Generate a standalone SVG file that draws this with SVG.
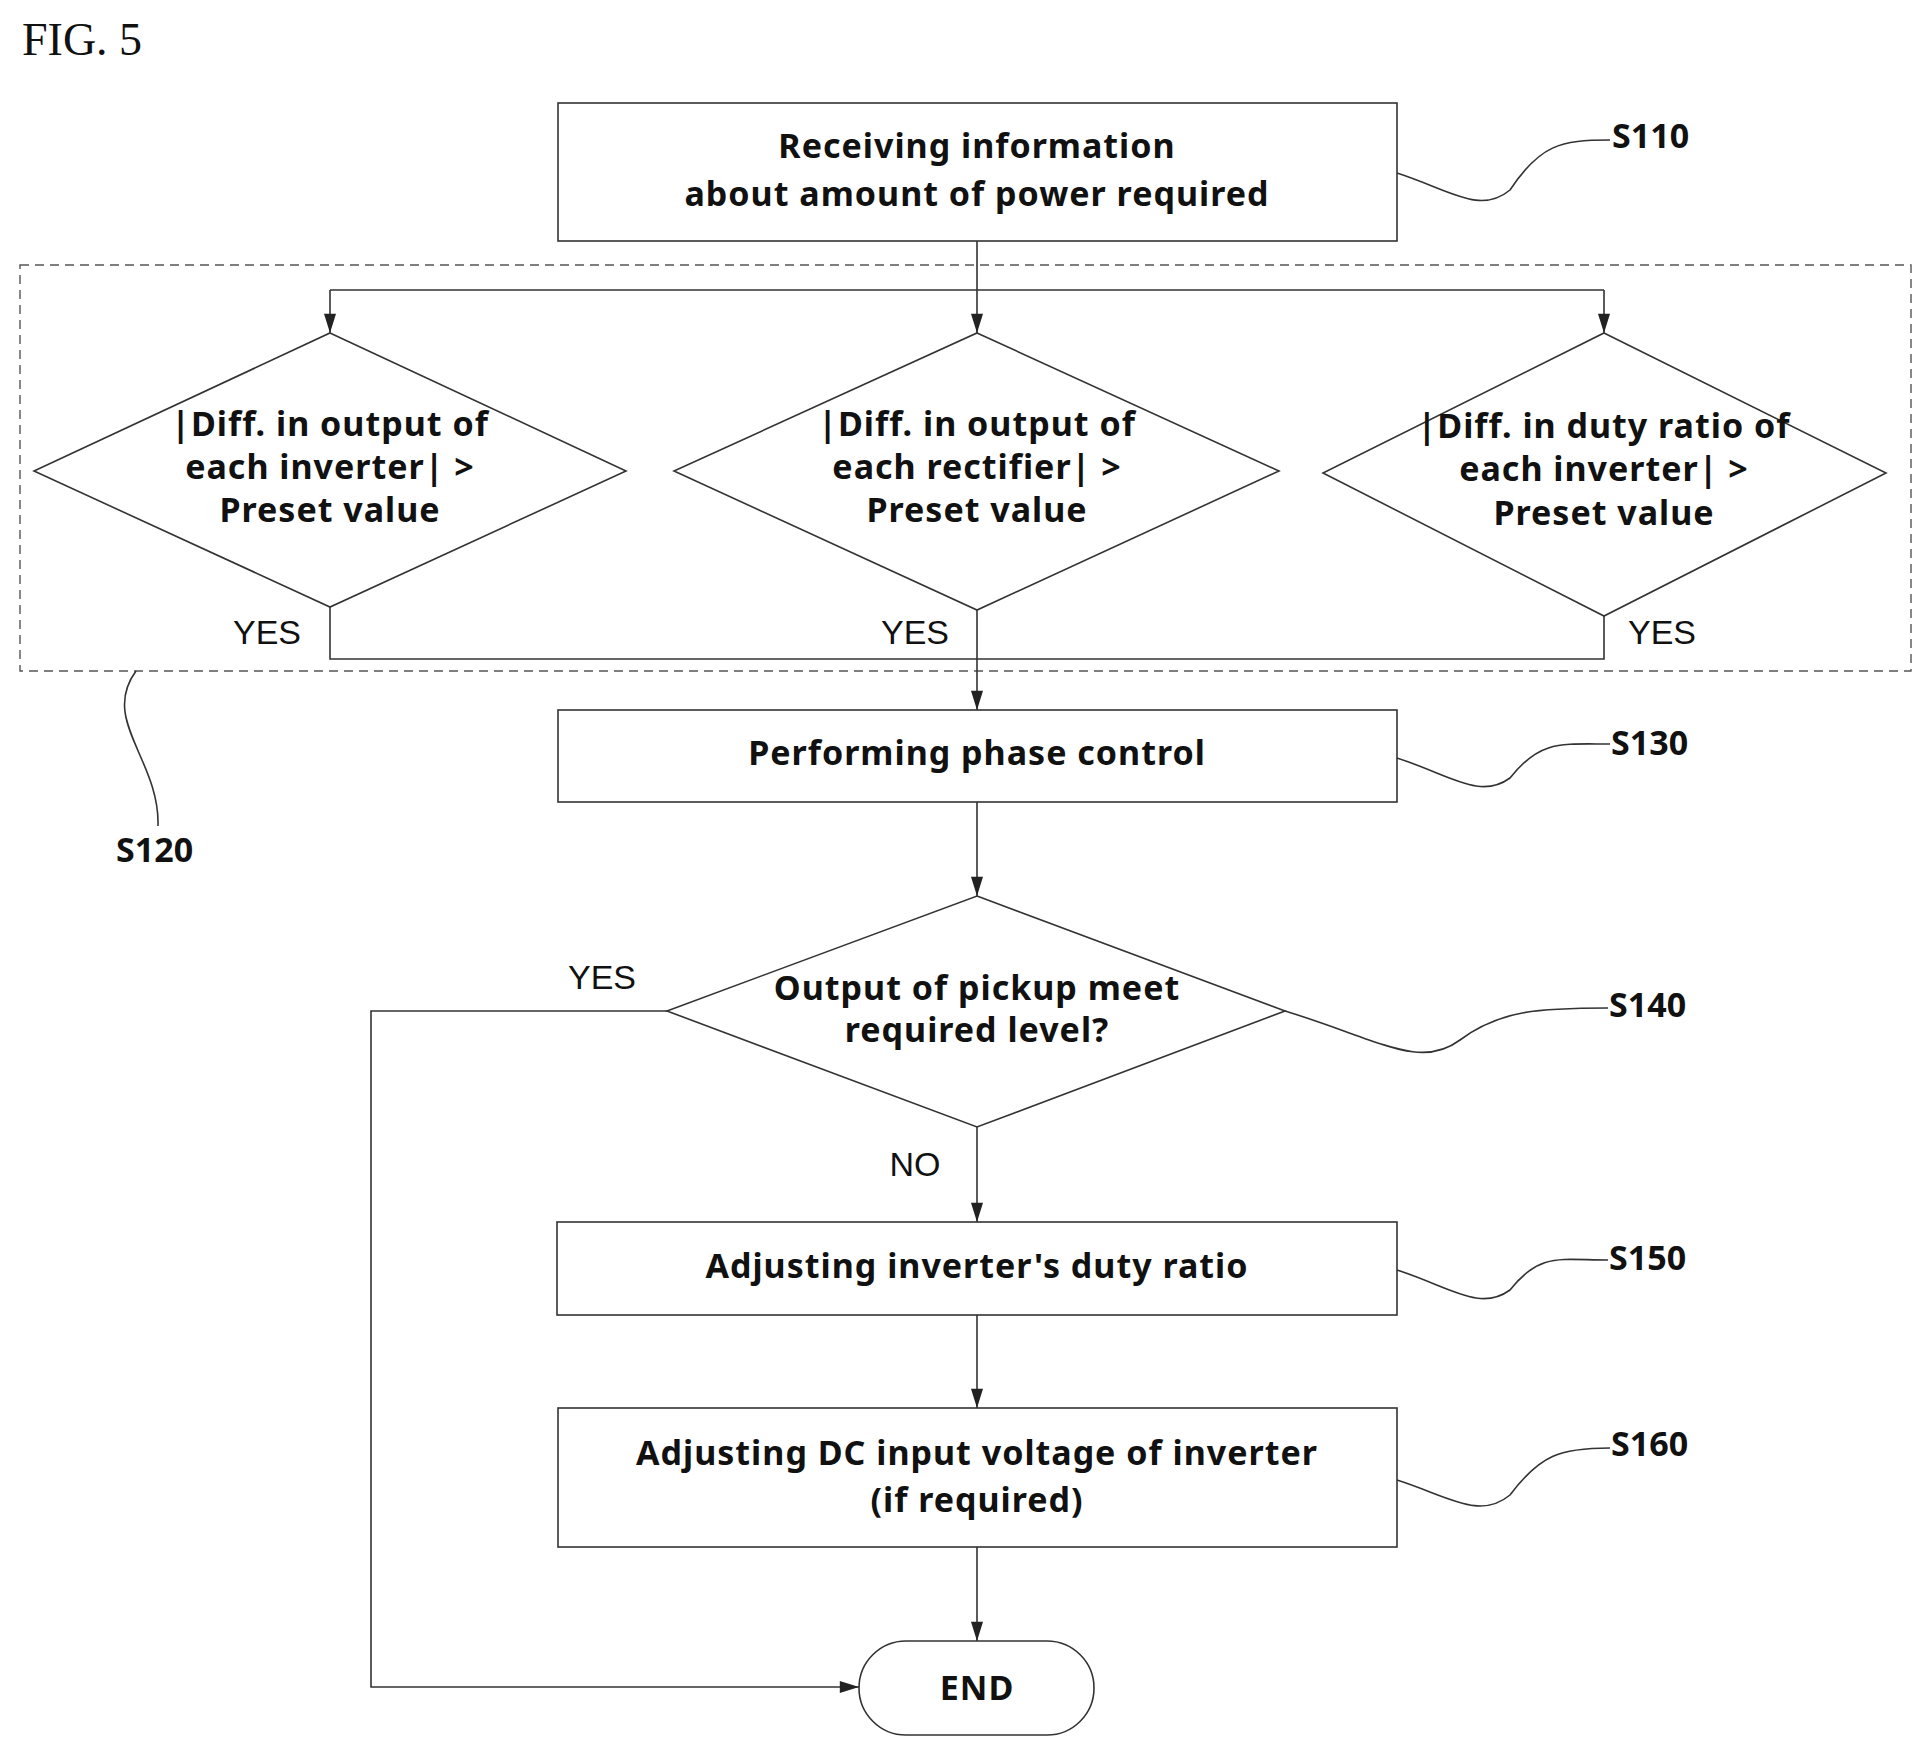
<svg xmlns="http://www.w3.org/2000/svg" width="1922" height="1747" viewBox="0 0 1922 1747">
<style>
.s{fill:none;stroke:#333;stroke-width:1.6}
.b{fill:#fff;stroke:#333;stroke-width:1.6}
.t{font-family:"Noto Sans","Liberation Sans",sans-serif;font-weight:bold;font-size:34px;fill:#111;text-anchor:middle;letter-spacing:1px}
.l{font-family:"Noto Sans","Liberation Sans",sans-serif;font-weight:bold;font-size:34px;fill:#111}
.y{font-family:"Liberation Sans",sans-serif;font-size:34px;fill:#111;text-anchor:middle}
</style>
<defs><marker id="ab" viewBox="0 0 16 10" refX="16" refY="5" markerWidth="20" markerHeight="12" markerUnits="userSpaceOnUse" orient="auto"><path d="M0,0 L16,5 L0,10 Z" fill="#222"/></marker></defs>
<rect width="1922" height="1747" fill="#fff"/>
<text x="22" y="55" font-family="Liberation Serif,serif" font-size="46" fill="#111">FIG. 5</text>
<g id="s120"><rect x="20" y="265" width="1891" height="406" fill="none" stroke="#555" stroke-width="1.4" stroke-dasharray="9,6"/>
<path class="s" d="M136,671 C100,720 160,760 158,826"/><text class="l" x="116" y="862">S120</text></g>
<g id="connectors">
<path class="s" d="M977,241 V290 M330,290 H1604"/>
<path class="s" d="M330,290 V333" marker-end="url(#ab)"/>
<path class="s" d="M977,290 V333" marker-end="url(#ab)"/>
<path class="s" d="M1604,290 V333" marker-end="url(#ab)"/>
<path class="s" d="M330,607 V659 H1604 V616 M977,610 V659"/>
<path class="s" d="M977,659 V710" marker-end="url(#ab)"/>
<path class="s" d="M977,802 V896" marker-end="url(#ab)"/>
<path class="s" d="M977,1127 V1222" marker-end="url(#ab)"/>
<path class="s" d="M977,1315 V1408" marker-end="url(#ab)"/>
<path class="s" d="M977,1547 V1641" marker-end="url(#ab)"/>
<path class="s" d="M667,1011 H371 V1687 H859" marker-end="url(#ab)"/>
<text class="y" x="267" y="644">YES</text><text class="y" x="915" y="644">YES</text><text class="y" x="1662" y="644">YES</text>
<text class="y" x="602" y="989">YES</text><text class="y" x="915" y="1176">NO</text>
</g>
<g id="s110"><rect class="b" x="558" y="103" width="839" height="138"/>
<text class="t" x="977" y="158">Receiving information</text><text class="t" x="977" y="206">about amount of power required</text>
<path class="s" d="M1397,173 C1450,190 1480,215 1510,190 C1540,145 1560,140 1610,140"/><text class="l" x="1612" y="148">S110</text></g>
<g id="d1"><path class="b" d="M330,333 L626,471 L330,607 L34,471 Z"/>
<text class="t" x="330" y="436">|Diff. in output of</text><text class="t" x="330" y="479">each inverter| &gt;</text><text class="t" x="330" y="522">Preset value</text></g>
<g id="d2"><path class="b" d="M977,333 L1279,471 L977,610 L674,471 Z"/>
<text class="t" x="977" y="436">|Diff. in output of</text><text class="t" x="977" y="479">each rectifier| &gt;</text><text class="t" x="977" y="522">Preset value</text></g>
<g id="d3"><path class="b" d="M1604,333 L1886,473 L1604,616 L1323,473 Z" fill="none"/>
<text class="t" x="1604" y="438">|Diff. in duty ratio of</text><text class="t" x="1604" y="481">each inverter| &gt;</text><text class="t" x="1604" y="525">Preset value</text></g>
<g id="s130"><rect class="b" x="558" y="710" width="839" height="92"/>
<text class="t" x="977" y="765">Performing phase control</text>
<path class="s" d="M1397,758 C1450,775 1480,800 1510,778 C1540,740 1560,744 1610,744"/><text class="l" x="1611" y="755">S130</text></g>
<g id="s140"><path class="b" d="M977,896 L1285,1011 L977,1127 L667,1011 Z"/>
<text class="t" x="977" y="1000">Output of pickup meet</text><text class="t" x="977" y="1042">required level?</text>
<path class="s" d="M1285,1011 C1380,1040 1420,1070 1460,1040 C1500,1010 1540,1008 1608,1008"/><text class="l" x="1609" y="1017">S140</text></g>
<g id="s150"><rect class="b" x="557" y="1222" width="840" height="93"/>
<text class="t" x="977" y="1278">Adjusting inverter's duty ratio</text>
<path class="s" d="M1397,1270 C1450,1287 1480,1312 1510,1290 C1540,1252 1560,1260 1608,1260"/><text class="l" x="1609" y="1270">S150</text></g>
<g id="s160"><rect class="b" x="558" y="1408" width="839" height="139"/>
<text class="t" x="977" y="1465">Adjusting DC input voltage of inverter</text><text class="t" x="977" y="1512">(if required)</text>
<path class="s" d="M1397,1480 C1450,1497 1480,1520 1510,1495 C1540,1455 1560,1448 1610,1448"/><text class="l" x="1611" y="1456">S160</text></g>
<g id="end"><rect class="b" x="859" y="1641" width="235" height="94" rx="47"/>
<text class="t" x="977" y="1700">END</text></g>
</svg>
